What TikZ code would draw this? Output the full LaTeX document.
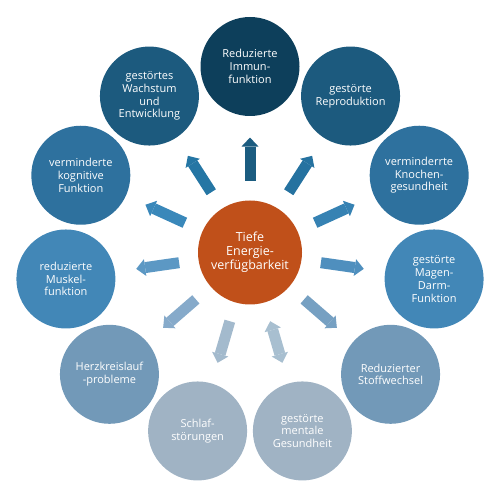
\documentclass[tikz,border=0pt]{standalone}
\usepackage{fontspec}
\setmainfont{Open Sans}
\usetikzlibrary{calc,arrows.meta}
\definecolor{cA}{HTML}{0D3F5B}
\definecolor{cB}{HTML}{1C5A7E}
\definecolor{cC}{HTML}{2E719E}
\definecolor{cD}{HTML}{4287B7}
\definecolor{cE}{HTML}{7299B8}
\definecolor{cF}{HTML}{A0B3C4}
\definecolor{cCenter}{HTML}{C0501A}
\definecolor{aA}{HTML}{1B5C80}
\definecolor{aB}{HTML}{2572A0}
\definecolor{aC}{HTML}{3682B3}
\definecolor{aD}{HTML}{4F8FBE}
\definecolor{aE}{HTML}{76A0C2}
\definecolor{aF}{HTML}{A8BFD0}
\definecolor{aG}{HTML}{A3BACD}
\definecolor{aH}{HTML}{86AACA}
\definecolor{aI}{HTML}{5C98C4}
\definecolor{aJ}{HTML}{3A88BA}
\definecolor{aK}{HTML}{2576A4}
\begin{document}
\begin{tikzpicture}[x=1pt,y=1pt,
  outer/.style={circle,minimum size=99pt,inner sep=0pt,text=white,align=center,
    font=\fontsize{11}{12.8}\selectfont},
  center/.style={circle,minimum size=104pt,inner sep=0pt,text=white,align=center,
    fill=cCenter,font=\fontsize{12.5}{14}\selectfont},
  blk/.style={line width=11pt,-{Triangle[width=17pt,length=9pt,line width=0pt]}},
  dblk/.style={line width=11pt,{Triangle[width=17pt,length=9pt,line width=0pt]}-{Triangle[width=17pt,length=9pt,line width=0pt]}}
]
\useasboundingbox (0,0) rectangle (498,499);
\node[center] (c) at (250,246.5) {Tiefe\\Energie-\\verfügbarkeit};
\def\R{186}
\node[outer,fill=cA] (n0) at ($(c)+(90:\R)$) {Reduzierte\\Immun-\\funktion};
\node[outer,fill=cB] (n1) at ($(c)+(90-1*32.727:\R)$) {gestörte\\Reproduktion};
\node[outer,fill=cC] (n2) at ($(c)+(90-2*32.727:\R)$) {verminderrte\\Knochen-\\gesundheit};
\node[outer,fill=cD] (n3) at ($(c)+(90-3*32.727:\R)$) {gestörte\\Magen-\\Darm-\\Funktion};
\node[outer,fill=cE] (n4) at ($(c)+(90-4*32.727:\R)$) {Reduzierter\\Stoffwechsel};
\node[outer,fill=cF] (n5) at ($(c)+(90-5*32.727:\R)$) {gestörte\\mentale\\Gesundheit};
\node[outer,fill=cF] (n6) at ($(c)+(90-6*32.727:\R)$) {Schlaf-\\störungen};
\node[outer,fill=cE] (n7) at ($(c)+(90-7*32.727:\R)$) {Herzkreislauf\\-probleme};
\node[outer,fill=cD] (n8) at ($(c)+(90-8*32.727:\R)$) {reduzierte\\Muskel-\\funktion};
\node[outer,fill=cC] (n9) at ($(c)+(90-9*32.727:\R)$) {verminderte\\kognitive\\Funktion};
\node[outer,fill=cB] (n10) at ($(c)+(90-10*32.727:\R)$) {gestörtes\\Wachstum\\und\\Entwicklung};
\def\ra{0.385}
\def\rb{0.618}
\draw[blk,aA] ($(c)!\ra!(n0)$) -- ($(c)!\rb!(n0)$);
\draw[blk,aB] ($(c)!\ra!(n1)$) -- ($(c)!\rb!(n1)$);
\draw[blk,aC] ($(c)!\ra!(n2)$) -- ($(c)!\rb!(n2)$);
\draw[blk,aD] ($(c)!\ra!(n3)$) -- ($(c)!\rb!(n3)$);
\draw[blk,aE] ($(c)!\ra!(n4)$) -- ($(c)!\rb!(n4)$);
\draw[dblk,aF] ($(c)!\ra!(n5)$) -- ($(c)!\rb!(n5)$);
\draw[blk,aG] ($(c)!\ra!(n6)$) -- ($(c)!\rb!(n6)$);
\draw[blk,aH] ($(c)!\ra!(n7)$) -- ($(c)!\rb!(n7)$);
\draw[blk,aI] ($(c)!\ra!(n8)$) -- ($(c)!\rb!(n8)$);
\draw[blk,aJ] ($(c)!\ra!(n9)$) -- ($(c)!\rb!(n9)$);
\draw[blk,aK] ($(c)!\ra!(n10)$) -- ($(c)!\rb!(n10)$);
\end{tikzpicture}
\end{document}
